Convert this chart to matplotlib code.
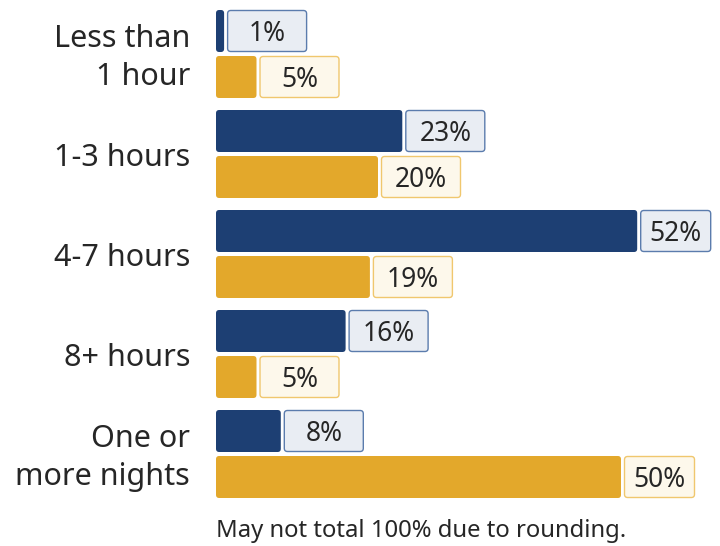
import matplotlib
matplotlib.use("Agg")
import matplotlib.pyplot as plt
from matplotlib.patches import FancyBboxPatch

plt.rcParams['font.family'] = ['Noto Sans', 'DejaVu Sans']

categories = ["Less than\n1 hour", "1-3 hours", "4-7 hours", "8+ hours", "One or\nmore nights"]
blue_vals = [1, 23, 52, 16, 8]
gold_vals = [5, 20, 19, 5, 50]

BLUE = "#1d3f73"
GOLD = "#e3a82b"
BLUE_BOX = ("#e9edf3", "#5b7cad")
GOLD_BOX = ("#fdf8eb", "#f0c76e")
TEXT = "#262626"

W, H = 720, 546
PX = 8.1  # pixels per percent

fig = plt.figure(figsize=(7.2, 5.46), dpi=100)
ax = fig.add_axes([216 / W, 0, 1 - 216 / W, 1])
ax.set_xlim(0, (W - 216) / PX)
ax.set_ylim(H, 0)
ax.axis("off")

bar_h = 42
r = 3.2 / PX


def draw_bar(val, yc, color, box_colors):
    ax.add_patch(FancyBboxPatch((0, yc - bar_h / 2), val, bar_h,
                                boxstyle=f"round,pad=0,rounding_size={r}",
                                mutation_aspect=PX, fc=color, ec="none"))
    x0 = val + 3.5 / PX
    bw = (70 if val >= 45 else 79) / PX
    ax.add_patch(FancyBboxPatch((x0, yc - bar_h / 2 + 0.5), bw, bar_h - 1,
                                boxstyle=f"round,pad=0,rounding_size={r}",
                                mutation_aspect=PX, fc=box_colors[0],
                                ec=box_colors[1], lw=1.0))
    ax.text(x0 + bw / 2, yc + 3, f"{val}%", ha="center", va="center",
            fontsize=19, color=TEXT)


for i, cat in enumerate(categories):
    top = 100 * i + 10
    draw_bar(blue_vals[i], top + 21, BLUE, BLUE_BOX)
    draw_bar(gold_vals[i], top + 67, GOLD, GOLD_BOX)
    ax.text(-26 / PX, top + 48, cat, ha="right", va="center",
            multialignment="right", fontsize=22, color=TEXT,
            linespacing=1.38)

ax.text(0, 531, "May not total 100% due to rounding.", ha="left", va="center",
        fontsize=17.2, color=TEXT)

fig.savefig("out.png", dpi=100)
